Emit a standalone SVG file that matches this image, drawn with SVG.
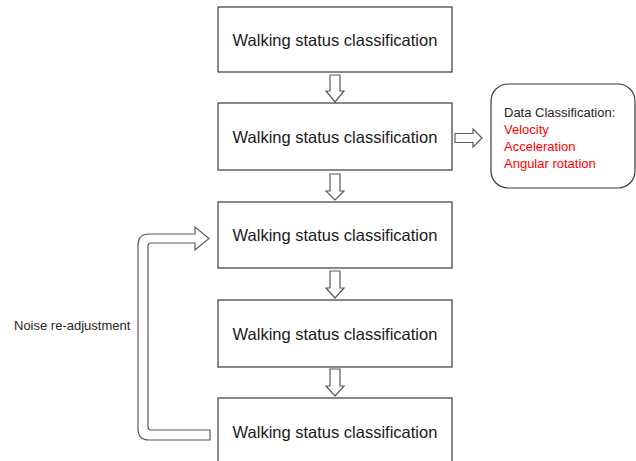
<svg xmlns="http://www.w3.org/2000/svg" width="636" height="461" viewBox="0 0 636 461">
<style>
.box{fill:#fff;stroke:#3a3a3a;stroke-width:1.2}
.lbl{font-family:"Liberation Sans",Arial,sans-serif;font-size:16.5px;fill:#1a1a1a;text-anchor:middle}
.arr{fill:#fff;stroke:#5a5a5a;stroke-width:1.2;stroke-linejoin:miter}
.small{font-family:"Liberation Sans",Arial,sans-serif;font-size:13px;fill:#262626}
.red{fill:#ff0000}
</style>
<rect width="636" height="461" fill="#fff"/>
<g id="connectors">
<path class="arr" d="M330 75 H340 V91 H344 L335 102 L326 91 H330 Z"/>
<path class="arr" d="M330 174 H340 V191 H344 L335 200 L326 191 H330 Z"/>
<path class="arr" d="M330 271 H340 V288 H344 L335 298 L326 288 H330 Z"/>
<path class="arr" d="M330 369 H340 V386 H344 L335 396 L326 386 H330 Z"/>
<path class="arr" d="M455 133.5 H473 V129 L482 138 L473 147 V142.5 H455 Z"/>
<path class="arr" d="M210 440 H149 Q138 440 138 429 V245 Q138 234 149 234 H195 V227 L209 238.5 L195 250 V243 H151 Q148 243 148 246 V427 Q148 430 151 430 H210 Z"/>
</g>
<g id="node1"><rect class="box" x="218" y="7" width="234" height="65"/><text class="lbl" x="335" y="45.5">Walking status classification</text></g>
<g id="node2"><rect class="box" x="218" y="103" width="234" height="67"/><text class="lbl" x="335" y="142.5">Walking status classification</text></g>
<g id="node3"><rect class="box" x="218" y="202" width="234" height="66"/><text class="lbl" x="335" y="241">Walking status classification</text></g>
<g id="node4"><rect class="box" x="218" y="300" width="234" height="67"/><text class="lbl" x="335" y="339.5">Walking status classification</text></g>
<g id="node5"><rect class="box" x="218" y="398" width="234" height="75"/><text class="lbl" x="335" y="437.5">Walking status classification</text></g>
<g id="data"><rect class="box" x="491" y="84" width="144" height="104" rx="17"/>
<text class="small" x="504" y="117">Data Classification:</text>
<text class="small red" x="504" y="134">Velocity</text>
<text class="small red" x="504" y="151">Acceleration</text>
<text class="small red" x="504" y="168">Angular rotation</text></g>
<g id="noise"><text class="small" x="14" y="330">Noise re-adjustment</text></g>
</svg>
